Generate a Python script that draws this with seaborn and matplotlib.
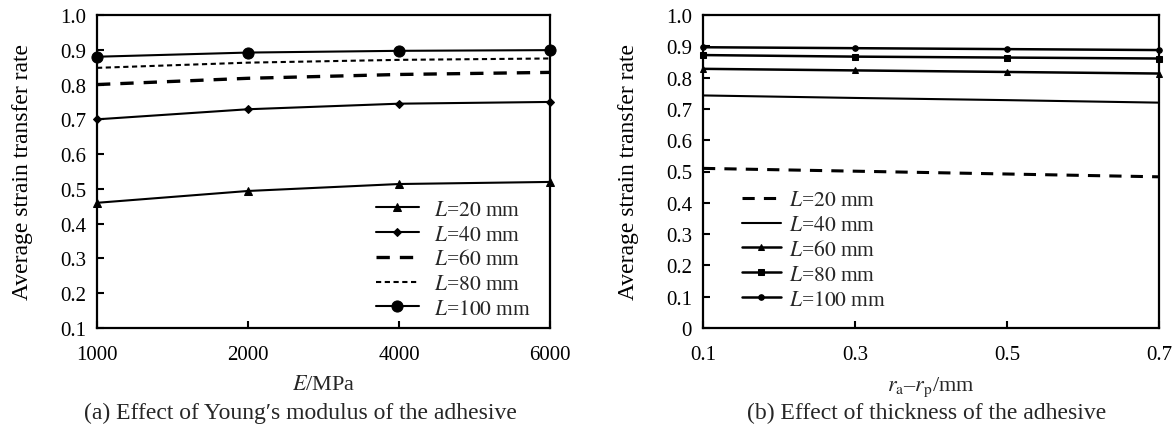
import pandas as pd
import seaborn as sns
import matplotlib
import matplotlib.pyplot as plt
from matplotlib.ticker import FuncFormatter

matplotlib.use('Agg')

# Panel (a): Young's modulus of the adhesive
modulus_labels = ["1000", "2000", "4000", "6000"]
modulus_pos = [0, 1, 2, 3]
a_L20 = [0.46, 0.494, 0.514, 0.520]
a_L40 = [0.70, 0.729, 0.745, 0.750]
a_L60 = [0.80, 0.818, 0.829, 0.835]
a_L80 = [0.848, 0.863, 0.871, 0.875]
a_L100 = [0.880, 0.892, 0.897, 0.899]

# Panel (b): thickness of the adhesive
thickness = [0.1, 0.3, 0.5, 0.7]
b_L20 = [0.510, 0.501, 0.492, 0.483]
b_L40 = [0.743, 0.735, 0.728, 0.720]
b_L60 = [0.828, 0.823, 0.818, 0.813]
b_L80 = [0.872, 0.867, 0.864, 0.861]
b_L100 = [0.897, 0.894, 0.891, 0.888]

lengths = ["20", "40", "60", "80", "100"]

sns.set_theme(style="white")
plt.rcParams['font.family'] = ['Liberation Serif', 'DejaVu Serif']
plt.rcParams['mathtext.fontset'] = 'stix'

TICK_FS = 15
LEG_FS = 15.5
XLAB_FS = 16
YLAB_FS = 17
CAP_FS = 17

fig = plt.figure(figsize=(11.74, 4.27), dpi=100)
ax1 = fig.add_axes([97 / 1174, 1 - 329 / 427, 453 / 1174, 313 / 427])
ax2 = fig.add_axes([703 / 1174, 1 - 329 / 427, 456 / 1174, 313 / 427])

# style per series: (linestyle, marker, markersize, linewidth)
a_styles = [
    ('-', '^', 6, 1.5),
    ('-', 'D', 4, 1.5),
    ((0, (4, 3)), None, 0, 2.4),
    ((0, (2.5, 1.7)), None, 0, 1.5),
    ('-', 'o', 8, 1.5),
]
b_styles = [
    ((0, (4, 3)), None, 0, 2.2),
    ('-', None, 0, 1.5),
    ('-', '^', 5, 1.8),
    ('-', 's', 4, 1.8),
    ('-', 'o', 4, 1.8),
]

a_series = [a_L20, a_L40, a_L60, a_L80, a_L100]
b_series = [b_L20, b_L40, b_L60, b_L80, b_L100]

for L, vals, (ls, mk, ms, lw) in zip(lengths, a_series, a_styles):
    df = pd.DataFrame({"x": modulus_pos, "y": vals})
    sns.lineplot(data=df, x="x", y="y", ax=ax1, color="black", linestyle=ls,
                 marker=mk, markersize=ms, linewidth=lw, markeredgecolor="black",
                 label=f"$\\mathit{{L}}$=${L}$ mm", clip_on=False, zorder=3)

for L, vals, (ls, mk, ms, lw) in zip(lengths, b_series, b_styles):
    df = pd.DataFrame({"x": thickness, "y": vals})
    sns.lineplot(data=df, x="x", y="y", ax=ax2, color="black", linestyle=ls,
                 marker=mk, markersize=ms, linewidth=lw, markeredgecolor="black",
                 label=f"$\\mathit{{L}}$=${L}$ mm", clip_on=False, zorder=3)


def fmt_b(v, pos):
    return "0" if abs(v) < 1e-9 else f"{v:.1f}"


for ax in (ax1, ax2):
    for sp in ax.spines.values():
        sp.set_color("black")
        sp.set_linewidth(1.6)
    ax.tick_params(axis="both", which="both", direction="in", length=5, width=1.5,
                   colors="black", labelsize=TICK_FS, left=True, bottom=True,
                   top=False, right=False)
    ax.tick_params(axis="y", pad=8)
    ax.tick_params(axis="x", pad=12)
    ax.set_ylabel("Average strain transfer rate", fontsize=YLAB_FS, color="black",
                  labelpad=19)
    ax.grid(False)

ax1.set_xlim(0, 3)
ax1.set_xticks(modulus_pos)
ax1.set_xticklabels(modulus_labels)
ax1.set_ylim(0.1, 1.0)
ax1.set_yticks([0.1 * i for i in range(1, 11)])
ax1.yaxis.set_major_formatter(FuncFormatter(lambda v, p: f"{v:.1f}"))
ax1.set_xlabel("$E$/MPa", fontsize=XLAB_FS, labelpad=8)

ax2.set_xlim(0.1, 0.7)
ax2.set_xticks(thickness)
ax2.xaxis.set_major_formatter(FuncFormatter(lambda v, p: f"{v:.1f}"))
ax2.set_ylim(0, 1.0)
ax2.set_yticks([0.1 * i for i in range(0, 11)])
ax2.yaxis.set_major_formatter(FuncFormatter(fmt_b))
ax2.set_xlabel("$r_\\mathrm{a}$\u2013$r_\\mathrm{p}$/mm", fontsize=XLAB_FS, labelpad=8)

ax1.legend(loc="upper left", bbox_to_anchor=(0.615, 0.41), frameon=False,
           fontsize=LEG_FS, handlelength=2.0, handletextpad=0.7, labelspacing=0.22,
           borderpad=0, borderaxespad=0)
ax2.legend(loc="upper left", bbox_to_anchor=(0.085, 0.44), frameon=False,
           fontsize=LEG_FS, handlelength=1.8, handletextpad=0.4, labelspacing=0.22,
           borderpad=0, borderaxespad=0)

fig.text(300 / 1174, 1 - 413 / 427, "(a) Effect of Young\u2032s modulus of the adhesive",
         ha="center", va="center", fontsize=CAP_FS)
fig.text(927 / 1174, 1 - 413 / 427, "(b) Effect of thickness of the adhesive",
         ha="center", va="center", fontsize=CAP_FS)

fig.savefig("out.png", dpi=100, facecolor="white")
